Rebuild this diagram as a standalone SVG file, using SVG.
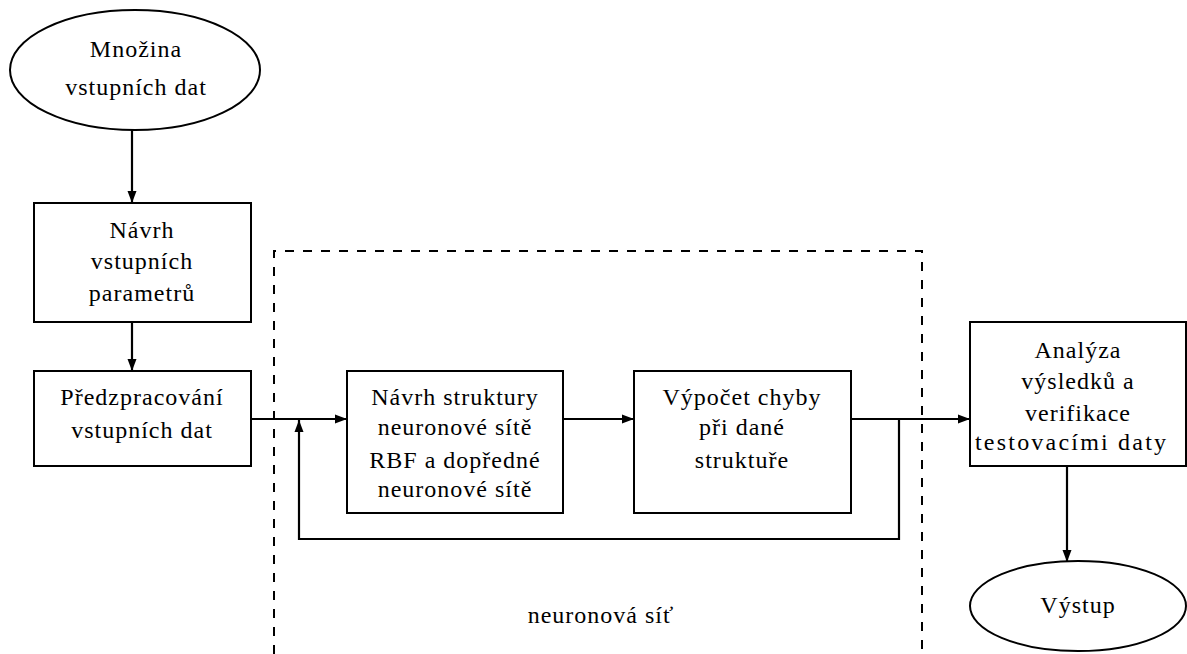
<svg xmlns="http://www.w3.org/2000/svg" width="1187" height="654" viewBox="0 0 1187 654">
  <style>
    .shape { fill: #ffffff; stroke: #000000; stroke-width: 2; }
    .line { fill: none; stroke: #000000; stroke-width: 2.2; }
    .dash { fill: none; stroke: #000000; stroke-width: 2; stroke-dasharray: 9 9; }
    .label { font-family: 'Liberation Serif', 'Times New Roman', serif; font-size: 24px; letter-spacing: 1px; fill: #000000; text-anchor: middle; }
  </style>
  <defs>
    <marker id="arrow" viewBox="0 0 12 10" refX="12" refY="5" markerWidth="12" markerHeight="10" markerUnits="userSpaceOnUse" orient="auto">
      <path d="M0,0.5 L12,5 L0,9.5 Z" fill="#000000"/>
    </marker>
  </defs>
  <rect width="1187" height="654" fill="#ffffff"/>

  <!-- neural network boundary (open at the bottom) -->
  <g id="neural-network-frame">
    <path class="dash" d="M274,654 V251 H922 V654"/>
    <text class="label" x="601" y="623">neuronová síť</text>
  </g>

  <g id="connectors">
    <path class="line" d="M132,130 V203" marker-end="url(#arrow)"/>
    <path class="line" d="M132,322 V371" marker-end="url(#arrow)"/>
    <path class="line" d="M251,419 H347" marker-end="url(#arrow)"/>
    <path class="line" d="M563,419 H634" marker-end="url(#arrow)"/>
    <path class="line" d="M851,419 H970" marker-end="url(#arrow)"/>
    <path class="line" d="M899,419 V539 H299 V420" marker-end="url(#arrow)"/>
    <path class="line" d="M1067,466 V562" marker-end="url(#arrow)"/>
  </g>

  <g id="input-data">
    <ellipse class="shape" cx="135" cy="70" rx="125" ry="60"/>
    <text class="label" x="136" y="57">Množina</text>
    <text class="label" x="136" y="95">vstupních dat</text>
  </g>

  <g id="input-parameters">
    <rect class="shape" x="34" y="203" width="217" height="119"/>
    <text class="label" x="142" y="238">Návrh</text>
    <text class="label" x="142" y="269">vstupních</text>
    <text class="label" x="142" y="301">parametrů</text>
  </g>

  <g id="preprocessing">
    <rect class="shape" x="34" y="371" width="217" height="95"/>
    <text class="label" x="142" y="405">Předzpracování</text>
    <text class="label" x="142" y="438">vstupních dat</text>
  </g>

  <g id="structure-design">
    <rect class="shape" x="347" y="371" width="216" height="142"/>
    <text class="label" x="455" y="405">Návrh struktury</text>
    <text class="label" x="455" y="435">neuronové sítě</text>
    <text class="label" x="455" y="468">RBF a dopředné</text>
    <text class="label" x="455" y="497">neuronové sítě</text>
  </g>

  <g id="error-computation">
    <rect class="shape" x="634" y="371" width="217" height="142"/>
    <text class="label" x="742" y="405">Výpočet chyby</text>
    <text class="label" x="742" y="435">při dané</text>
    <text class="label" x="742" y="468">struktuře</text>
  </g>

  <g id="analysis">
    <rect class="shape" x="970" y="322" width="216" height="144"/>
    <text class="label" x="1078" y="358">Analýza</text>
    <text class="label" x="1078" y="389">výsledků a</text>
    <text class="label" x="1078" y="421">verifikace</text>
    <text class="label" x="1071" y="450" textLength="192" lengthAdjust="spacing">testovacími daty</text>
  </g>

  <g id="output">
    <ellipse class="shape" cx="1078" cy="606" rx="108" ry="45"/>
    <text class="label" x="1078" y="613">Výstup</text>
  </g>
</svg>
